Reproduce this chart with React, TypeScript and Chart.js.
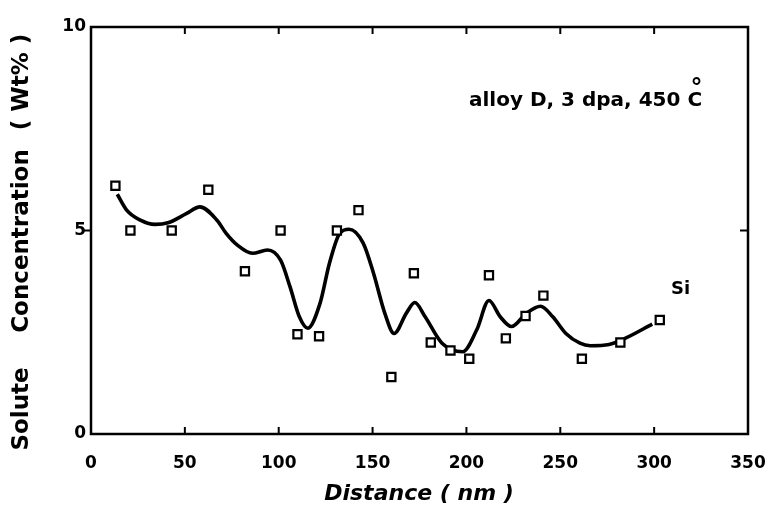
import React, { useEffect, useRef } from "react";
import { Chart, registerables } from "chart.js";

Chart.register(...registerables);

// Measured Si concentration (wt%) versus distance (nm)
const distanceNm = [13, 21, 43, 62.5, 82, 101, 110, 121.5, 131, 142.5, 160, 172, 181, 191.5, 201.5, 212, 221, 231.5, 241, 261.5, 282, 303];
const siWtPct = [6.1, 5.0, 5.0, 6.0, 4.0, 5.0, 2.45, 2.4, 5.0, 5.5, 1.4, 3.95, 2.25, 2.05, 1.85, 3.9, 2.35, 2.9, 3.4, 1.85, 2.25, 2.8];

// Hand-drawn guide curve through the profile
const curveX = [14, 19, 26, 34, 41, 51, 58, 67, 72, 78, 86, 94, 101, 106, 111, 115.5, 122, 127, 132.5, 137.5, 145, 150.5, 156.5, 161.5, 168, 172.5, 178, 187, 198, 205.5, 212, 218, 224, 232, 239.5, 246, 253, 260.5, 266, 276, 284.5, 299];
const curveY = [5.89, 5.5, 5.26, 5.15, 5.19, 5.42, 5.58, 5.26, 4.93, 4.64, 4.44, 4.52, 4.27, 3.62, 2.88, 2.6, 3.21, 4.19, 4.93, 5.03, 4.69, 3.95, 2.97, 2.47, 2.97, 3.23, 2.88, 2.23, 2.02, 2.56, 3.28, 2.88, 2.64, 2.97, 3.14, 2.88, 2.47, 2.23, 2.17, 2.2, 2.35, 2.7];

const xTickValues = [0, 50, 100, 150, 200, 250, 300, 350];
const yTickValues = [0, 5, 10];

const FONT = "'DejaVu Sans', sans-serif";

const framePlugin = {
  id: "frameAndText",
  afterDraw(chart: any) {
    const { ctx, chartArea } = chart;
    const xs = chart.scales.x;
    const ys = chart.scales.y;
    const { left, right, top, bottom } = chartArea;
    ctx.save();
    ctx.strokeStyle = "#000";
    ctx.lineWidth = 2.5;
    ctx.strokeRect(left, top, right - left, bottom - top);

    // tick marks
    ctx.lineWidth = 2;
    ctx.beginPath();
    for (const v of xTickValues) {
      if (v === 0 || v === 350) continue;
      const px = xs.getPixelForValue(v);
      ctx.moveTo(px, bottom);
      ctx.lineTo(px, bottom - 7);
      ctx.moveTo(px, top);
      ctx.lineTo(px, top + 7);
    }
    const y5 = ys.getPixelForValue(5);
    ctx.moveTo(left, y5);
    ctx.lineTo(left - 7, y5);
    ctx.moveTo(right, y5);
    ctx.lineTo(right - 8, y5);
    ctx.stroke();

    ctx.fillStyle = "#000";
    // y-axis title, set word by word along the axis
    ctx.save();
    ctx.translate(22, 0);
    ctx.rotate(-Math.PI / 2);
    ctx.font = `bold 23px ${FONT}`;
    ctx.textAlign = "center";
    ctx.textBaseline = "middle";
    ctx.fillText("Solute", -409, 0);
    ctx.fillText("Concentration", -241, 0);
    ctx.fillText("( Wt% )", -82, 0);
    ctx.restore();

    // x-axis title
    ctx.font = `italic bold 22px ${FONT}`;
    ctx.textAlign = "center";
    ctx.textBaseline = "middle";
    ctx.fillText("Distance ( nm )", 419, 494);

    // condition label
    ctx.font = `bold 20px ${FONT}`;
    ctx.textAlign = "left";
    ctx.textBaseline = "middle";
    const cond = "alloy D, 3 dpa, 450 ";
    ctx.fillText(cond, 469, 101);
    const cx = 469 + ctx.measureText(cond).width;
    ctx.fillText("C", cx, 101);
    ctx.font = `bold 24px ${FONT}`;
    ctx.fillText("°", cx + 3, 90);

    // series label
    ctx.font = `bold 18px ${FONT}`;
    ctx.fillText("Si", 671, 289);
    ctx.restore();
  },
};

export default function App() {
  const canvasRef = useRef<HTMLCanvasElement | null>(null);

  useEffect(() => {
    document.body.style.margin = "0";
    const canvas = canvasRef.current;
    if (!canvas) return;
    const chart = new Chart(canvas, {
      type: "scatter",
      data: {
        datasets: [
          {
            label: "Si",
            data: distanceNm.map((x, i) => ({ x, y: siWtPct[i] })),
            pointStyle: "rect",
            pointRadius: 5.8,
            pointBorderWidth: 2.2,
            pointBorderColor: "#000",
            pointBackgroundColor: "#fff",
            showLine: false,
            order: 0,
          },
          {
            label: "fit",
            type: "line",
            data: curveX.map((x, i) => ({ x, y: curveY[i] })),
            borderColor: "#000",
            borderWidth: 3.6,
            pointRadius: 0,
            cubicInterpolationMode: "monotone",
            fill: false,
            order: 1,
          },
        ],
      },
      options: {
        responsive: false,
        animation: false,
        events: [],
        layout: { padding: { left: 0, right: 18, top: 27, bottom: 0 } },
        plugins: {
          legend: { display: false },
          tooltip: { enabled: false },
        },
        scales: {
          x: {
            type: "linear",
            min: 0,
            max: 350,
            afterFit: (scale: any) => {
              scale.height = 86;
              scale.paddingLeft = 0;
              scale.paddingRight = 0;
            },
            afterBuildTicks: (scale: any) => {
              scale.ticks = xTickValues.map((v) => ({ value: v }));
            },
            grid: { display: false, drawTicks: false },
            border: { display: false },
            ticks: {
              padding: 19,
              color: "#000",
              font: { family: FONT, size: 17, weight: "bold" },
              maxRotation: 0,
            },
          },
          y: {
            type: "linear",
            min: 0,
            max: 10,
            afterFit: (scale: any) => {
              scale.width = 91;
              scale.paddingTop = 0;
              scale.paddingBottom = 0;
            },
            afterBuildTicks: (scale: any) => {
              scale.ticks = yTickValues.map((v) => ({ value: v }));
            },
            grid: { display: false, drawTicks: false },
            border: { display: false },
            ticks: {
              padding: 5,
              color: "#000",
              font: { family: FONT, size: 17, weight: "bold" },
            },
          },
        },
      },
      plugins: [framePlugin],
    });
    return () => chart.destroy();
  }, []);

  return (
    <div style={{ width: 766, height: 520, background: "#fff" }}>
      <canvas ref={canvasRef} width={766} height={520} style={{ display: "block" }} />
    </div>
  );
}
